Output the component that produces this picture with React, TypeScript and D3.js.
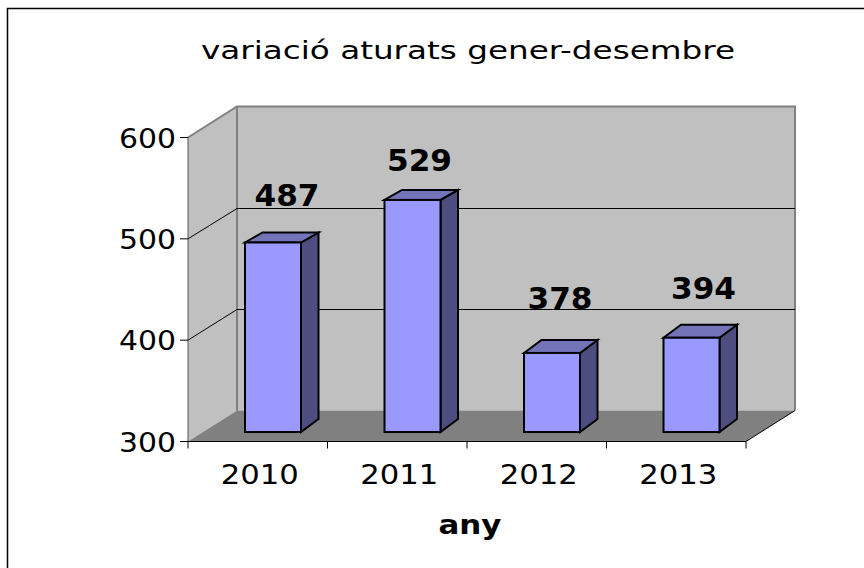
import React from "react";
import * as d3 from "d3";

const categories = ["2010", "2011", "2012", "2013"];
const values = [487, 529, 378, 394];
const yTicks = [300, 400, 500, 600];
const title = "variació aturats gener-desembre";
const xTitle = "any";

const FONT = "'DejaVu Sans', Verdana, sans-serif";
const X0 = 188, X1 = 746, Y0 = 441.5, Y1 = 137.5;
const DX = 49, DY = -31;
const BDX = 17.5, BDY = -13;
// hand-placed data label nudges and top-face depth seen in the reference
const labelDx = [29, 22, 23, 27];
const labelDy = [-37, -29, -44, -38];
const topDepth = [-10, -10, -13, -13];
const topNudge = [0, 0, 0, 1];

export default function App() {
  const x = d3.scaleBand<string>().domain(categories).range([X0, X1]).paddingInner(0).paddingOuter(0);
  const y = d3.scaleLinear().domain([300, 600]).range([Y0, Y1]);
  const barW = 56;
  const barOff = 57;
  const baseLift = 9.5;
  const pts = (a: number[][]) => a.map((p) => p.join(",")).join(" ");
  const stretch = { lengthAdjust: "spacingAndGlyphs" as const };
  return (
    <svg width={864} height={568} style={{ position: "absolute", left: 0, top: 0, background: "#fff" }}>
      <polyline points="7.5,568 7.5,8.5 864,8.5" fill="none" stroke="#000" strokeWidth={1.5} />
      <text x={468} y={59} textAnchor="middle" fontFamily={FONT} fontSize={25} textLength={534} {...stretch}>{title}</text>

      {/* walls */}
      <polygon points={pts([[X0, Y0], [X0, Y1], [X0 + DX, Y1 + DY], [X0 + DX, Y0 + DY]])} fill="#c0c0c0" />
      <polygon points={pts([[X0 + DX, Y1 + DY], [X1 + DX, Y1 + DY], [X1 + DX, Y0 + DY], [X0 + DX, Y0 + DY]])} fill="#c0c0c0" />
      <polygon points={pts([[X0, Y0], [X1, Y0], [X1 + DX, Y0 + DY], [X0 + DX, Y0 + DY]])} fill="#808080" />
      <polyline points={pts([[X0, Y1], [X0 + DX, Y1 + DY], [X1 + DX, Y1 + DY], [X1 + DX, Y0 + DY]])} fill="none" stroke="#808080" strokeWidth={2} />
      <line x1={X0 + DX} x2={X0 + DX} y1={Y1 + DY} y2={Y0 + DY} stroke="#808080" strokeWidth={2} />

      {/* gridlines */}
      {yTicks.slice(1, 3).map((t) => {
        const gy = Math.round(y(t) + DY) + 0.5;
        return (
          <g key={t} stroke="#000" strokeWidth={1}>
            <line x1={X0} y1={y(t)} x2={X0 + DX} y2={gy} />
            <line x1={X0 + DX} y1={gy} x2={X1 + DX} y2={gy} />
          </g>
        );
      })}

      {/* axes */}
      <line x1={X0} x2={X0} y1={Y1} y2={Y0} stroke="#555" strokeWidth={1} />
      <line x1={X0} x2={X1} y1={Y0} y2={Y0} stroke="#000" strokeWidth={1} />
      <line x1={X1} x2={X1 + DX} y1={Y0} y2={Y0 + DY} stroke="#000" strokeWidth={1} />
      {yTicks.map((t) => (
        <g key={t}>
          <line x1={X0 - 8} x2={X0} y1={y(t)} y2={y(t)} stroke="#000" strokeWidth={1} />
          <text x={X0 - 12} y={y(t) + 10} textAnchor="end" fontFamily={FONT} fontSize={27} textLength={57} {...stretch}>{t}</text>
        </g>
      ))}
      {[...categories.map((c) => x(c)!), X1].map((v, i) => (
        <line key={i} x1={v} x2={v} y1={Y0} y2={Y0 + 7} stroke="#000" strokeWidth={1} />
      ))}
      {categories.map((c) => (
        <text key={c} x={x(c)! + x.bandwidth() / 2 + 2} y={484} textAnchor="middle" fontFamily={FONT} fontSize={27} textLength={78} {...stretch}>{c}</text>
      ))}
      <text x={470} y={534} textAnchor="middle" fontFamily={FONT} fontSize={27} fontWeight="bold" textLength={63} {...stretch}>{xTitle}</text>

      {/* bars */}
      {categories.map((c, i) => {
        const l = x(c)! + barOff;
        const r = l + barW;
        const b = Y0 - baseLift;
        const t = y(values[i]) - baseLift + topNudge[i];
        const td = topDepth[i];
        return (
          <g key={c} stroke="#000" strokeWidth={2} strokeLinejoin="miter">
            <polygon points={pts([[r, t], [r + BDX, t + td], [r + BDX, b + BDY], [r, b]])} fill="#4d4d80" />
            <polygon points={pts([[l, t], [l + BDX, t + td], [r + BDX, t + td], [r, t]])} fill="#7373b8" />
            <rect x={l} y={t} width={barW} height={b - t} fill="#9999ff" />
          </g>
        );
      })}

      {/* labels */}
      {categories.map((c, i) => (
        <text key={c} x={x(c)! + 70 + labelDx[i]} y={y(values[i]) - baseLift + labelDy[i]} textAnchor="middle" fontFamily={FONT} fontSize={30} fontWeight="bold" textLength={65} {...stretch}>{values[i]}</text>
      ))}
    </svg>
  );
}
